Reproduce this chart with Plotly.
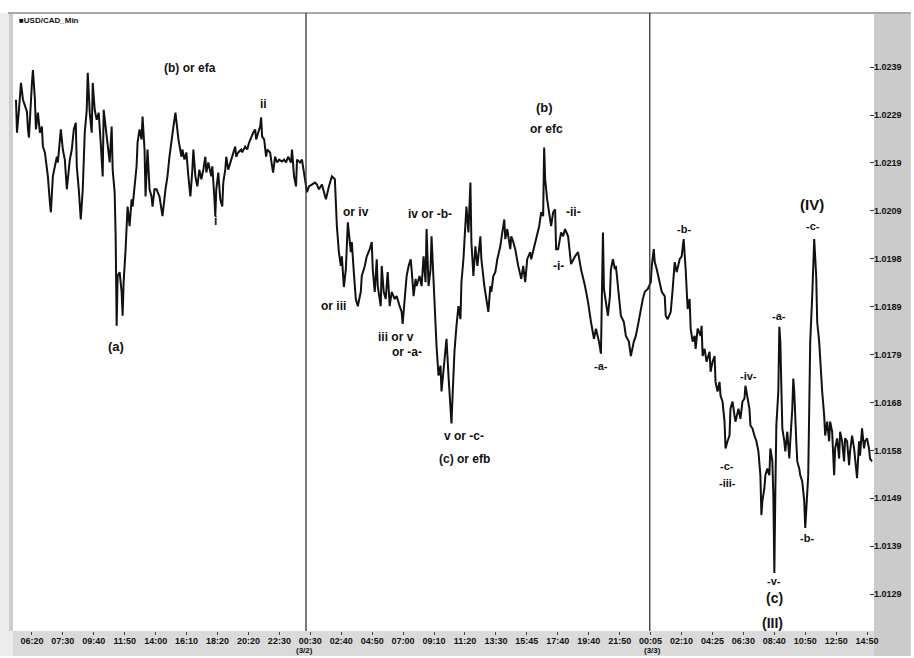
import plotly.graph_objects as go

# ---------------- data ----------------
bars = [0, 1, 3, 5, 7, 11, 12, 13, 16, 17, 19, 20, 22, 24, 26, 27, 29, 31, 32, 34, 35, 37, 39, 41, 42, 45, 47, 49,
        51, 52, 54, 56, 58, 60, 61, 63, 65, 67, 69, 71, 72, 74, 76, 77, 79, 81, 83, 85, 87, 88, 90, 92, 94, 96, 97,
        99, 100, 101, 102, 104, 106, 107, 108, 110, 112, 114, 116, 117, 119, 121, 122, 124, 126, 127, 129, 130, 132,
        134, 136, 137, 139, 141, 144, 147, 150, 152, 154, 156, 158, 160, 161, 163, 166, 167, 169, 171, 173, 175, 177,
        178, 180, 182, 184, 186, 188, 190, 191, 193, 196, 197, 199, 200, 201, 203, 205, 207, 208, 210, 211, 213, 216,
        218, 220, 221, 223, 226, 227, 230, 232, 234, 236, 238, 240, 241, 243, 245, 246, 247, 249, 251, 252, 255, 257,
        258, 260, 262, 264, 267, 269, 271, 273, 276, 277, 279, 281, 282, 285, 287, 288, 290, 292, 294, 297, 300, 302,
        304, 307, 311, 314, 317, 320, 322, 324, 326, 327, 329, 331, 333, 336, 337, 339, 341, 343, 346, 347, 350, 352,
        355, 357, 358, 360, 362, 363, 366, 367, 369, 371, 373, 375, 377, 380, 382, 385, 387, 388, 390, 392, 394, 396,
        397, 399, 401, 402, 405, 407, 408, 409, 411, 412, 414, 416, 417, 419, 421, 422, 424, 426, 427, 429, 431, 432,
        434, 436, 437, 438, 440, 442, 444, 446, 447, 449, 451, 452, 454, 456, 457, 459, 461, 463, 466, 467, 470, 472,
        474, 476, 477, 479, 481, 483, 486, 488, 490, 491, 493, 496, 497, 499, 501, 504, 507, 509, 511, 513, 516, 517,
        520, 522, 525, 527, 529, 530, 531, 533, 536, 537, 539, 541, 542, 544, 547, 549, 551, 554, 557, 559, 561, 564,
        567, 571, 574, 577, 580, 582, 585, 587, 589, 590, 592, 594, 596, 597, 599, 601, 602, 604, 606, 607, 610, 612,
        615, 617, 620, 622, 624, 627, 629, 631, 634, 637, 638, 640, 641, 643, 646, 648, 651, 652, 654, 657, 659, 661,
        663, 666, 668, 670, 672, 674, 676, 677, 679, 681, 682, 684, 687, 688, 689, 691, 693, 696, 697, 699, 701, 702,
        704, 706, 707, 709, 711, 712, 714, 716, 717, 719, 721, 722, 725, 727, 729, 731, 732, 734, 736, 737, 739, 741,
        743, 745, 747, 748, 749, 751, 752, 754, 756, 757, 759, 760, 761, 762, 763, 765, 766, 767, 768, 769, 771, 772,
        774, 776, 777, 779, 780, 781, 783, 784, 786, 787, 789, 791, 792, 793, 795, 796, 797, 799, 800, 801, 803, 804,
        806, 807, 809, 811, 812, 814, 816, 817, 819, 821, 822, 824, 826, 827, 829, 831, 832, 834, 836, 837, 839, 841,
        842, 844, 846, 847, 849, 851, 852, 854, 856, 857, 859]

prices = [1.02322, 1.02253, 1.02301, 1.02357, 1.02322, 1.02297, 1.02260, 1.02243, 1.02357, 1.02384, 1.02322,
          1.02260, 1.02295, 1.02253, 1.02266, 1.02224, 1.02212, 1.02176, 1.02162, 1.02108, 1.02087, 1.02162,
          1.02183, 1.02203, 1.02191, 1.02260, 1.02218, 1.02197, 1.02135, 1.02162, 1.02197, 1.02218, 1.02260,
          1.02274, 1.02183, 1.02135, 1.02072, 1.02135, 1.02253, 1.02301, 1.02378, 1.02295, 1.02253, 1.02357,
          1.02301, 1.02280, 1.02295, 1.02233, 1.02162, 1.02301, 1.02260, 1.02218, 1.02191, 1.02266, 1.02176,
          1.02129, 1.02037, 1.01850, 1.01954, 1.01962, 1.01921, 1.01871, 1.01941, 1.02010, 1.02099, 1.02058,
          1.02114, 1.02099, 1.02135, 1.02183, 1.02233, 1.02260, 1.02239, 1.02287, 1.02218, 1.02120, 1.02218,
          1.02135, 1.02120, 1.02099, 1.02135, 1.02135, 1.02120, 1.02079, 1.02135, 1.02162, 1.02203, 1.02239,
          1.02266, 1.02295, 1.02274, 1.02239, 1.02203, 1.02218, 1.02197, 1.02212, 1.02162, 1.02120, 1.02176,
          1.02218, 1.02162, 1.02141, 1.02176, 1.02156, 1.02176, 1.02203, 1.02170, 1.02191, 1.02162, 1.02183,
          1.02120, 1.02079, 1.02135, 1.02170, 1.02114, 1.02099, 1.02149, 1.02176, 1.02203, 1.02176, 1.02197,
          1.02212, 1.02224, 1.02203, 1.02212, 1.02218, 1.02212, 1.02224, 1.02218, 1.02233, 1.02245, 1.02253,
          1.02260, 1.02239, 1.02253, 1.02266, 1.02285, 1.02245, 1.02239, 1.02203, 1.02218, 1.02212, 1.02183,
          1.02170, 1.02203, 1.02191, 1.02197, 1.02193, 1.02197, 1.02191, 1.02203, 1.02191, 1.02218, 1.02162,
          1.02141, 1.02197, 1.02191, 1.02197, 1.02183, 1.02156, 1.02129, 1.02141, 1.02145, 1.02149, 1.02145,
          1.02135, 1.02145, 1.02114, 1.02141, 1.02162, 1.02156, 1.02058, 1.02004, 1.01975, 1.01995, 1.01931,
          1.01968, 1.02066, 1.02004, 1.02025, 1.01962, 1.01906, 1.01891, 1.01921, 1.01954, 1.01975, 1.01995,
          1.02010, 1.02025, 1.01968, 1.01921, 1.01989, 1.01933, 1.01891, 1.01975, 1.01921, 1.01906, 1.01962,
          1.01891, 1.01921, 1.01906, 1.01912, 1.01891, 1.01879, 1.01854, 1.01906, 1.01954, 1.01975, 1.01989,
          1.01968, 1.01912, 1.01948, 1.01933, 1.01954, 1.01933, 1.01962, 1.01995, 1.01941, 1.02052, 1.01933,
          1.01968, 1.02037, 1.01933, 1.01850, 1.01808, 1.01746, 1.01767, 1.01713, 1.01754, 1.01787, 1.01823,
          1.01746, 1.01671, 1.01646, 1.01698, 1.01796, 1.01850, 1.01891, 1.01864, 1.01941, 1.01989, 1.02058,
          1.02099, 1.02045, 1.02149, 1.02025, 1.01954, 1.02016, 1.01975, 1.02037, 1.01989, 1.01933, 1.01906,
          1.01879, 1.01933, 1.01921, 1.01954, 1.01962, 1.01989, 1.02016, 1.02045, 1.02072, 1.02031, 1.02052,
          1.02010, 1.02037, 1.02025, 1.02010, 1.01975, 1.01948, 1.01975, 1.01941, 1.01989, 1.02004, 1.01989,
          1.02016, 1.02037, 1.02058, 1.02087, 1.02079, 1.02222, 1.02156, 1.02114, 1.02072, 1.02058, 1.02087,
          1.02093, 1.02010, 1.02010, 1.02045, 1.02037, 1.02052, 1.02037, 1.01979, 1.01989, 1.01995, 1.02004,
          1.01968, 1.01933, 1.01900, 1.01858, 1.01823, 1.01844, 1.01817, 1.01792, 1.02045, 1.01927, 1.01900,
          1.01871, 1.01912, 1.01968, 1.01989, 1.01968, 1.01975, 1.01933, 1.01891, 1.01871, 1.01858, 1.01829,
          1.01817, 1.01787, 1.01817, 1.01829, 1.01850, 1.01885, 1.01906, 1.01921, 1.01927, 1.01941, 1.01975,
          1.02010, 1.01983, 1.01968, 1.01941, 1.01921, 1.01912, 1.01871, 1.01864, 1.01879, 1.01927, 1.01983,
          1.01962, 1.01989, 1.01995, 1.02031, 1.01968, 1.01885, 1.01906, 1.01844, 1.01817, 1.01829, 1.01802,
          1.01844, 1.01829, 1.01850, 1.01787, 1.01802, 1.01775, 1.01796, 1.01754, 1.01775, 1.01787, 1.01733,
          1.01713, 1.01733, 1.01704, 1.01692, 1.01650, 1.01594, 1.01609, 1.01621, 1.01677, 1.01692, 1.01663,
          1.01650, 1.01677, 1.01656, 1.01692, 1.01698, 1.01725, 1.01704, 1.01677, 1.01642, 1.01636, 1.01621,
          1.01609, 1.01588, 1.01538, 1.01455, 1.01484, 1.01511, 1.01538, 1.01552, 1.01538, 1.01594, 1.01567,
          1.01496, 1.01334, 1.01505, 1.01642, 1.01713, 1.01848, 1.01817, 1.01692, 1.01636, 1.01609, 1.01588,
          1.01629, 1.01573, 1.01609, 1.01677, 1.01740, 1.01713, 1.01609, 1.01567, 1.01552, 1.01538, 1.01525,
          1.01484, 1.01428, 1.01469, 1.01538, 1.01677, 1.01817, 1.01912, 1.01983, 1.02031, 1.01954, 1.01858,
          1.01817, 1.01775, 1.01713, 1.01663, 1.01621, 1.01650, 1.01609, 1.01650, 1.01629, 1.01538, 1.01594,
          1.01615, 1.01573, 1.01629, 1.01609, 1.01567, 1.01615, 1.01609, 1.01559, 1.01588, 1.01621, 1.01594,
          1.01567, 1.01532, 1.01609, 1.01579, 1.01636, 1.01594, 1.01609, 1.01615, 1.01594, 1.01573, 1.01567]

x_tick_labels = ["06:20", "07:30", "09:40", "11:50", "14:00", "16:10", "18:20", "20:20", "22:30", "00:30",
                 "02:40", "04:50", "07:00", "09:10", "11:20", "13:30", "15:45", "17:40", "19:40", "21:50",
                 "00:05", "02:10", "04:25", "06:30", "08:40", "10:50", "12:50", "14:50"]
y_tick_values = [1.0239, 1.0229, 1.0219, 1.0209, 1.0199, 1.0189, 1.0179, 1.0169, 1.0159, 1.0149, 1.0139, 1.0129]
y_tick_labels = ["1.0239", "1.0229", "1.0219", "1.0209", "1.0198", "1.0189", "1.0179", "1.0168", "1.0158",
                 "1.0149", "1.0139", "1.0129"]
session_breaks = [291, 636]
date_labels = ["(3/2)", "(3/3)"]
date_label_bars = [290, 639]

# wave labels: text, bar, price, font size
wave_labels = [
    ("(a)", 100, 1.01806, 13), ("(b) or efa", 175, 1.02389, 12), ("ii", 248, 1.02314, 12),
    ("i", 200, 1.02068, 12), ("or iv", 341, 1.02087, 12), ("or iii", 319, 1.01891, 12),
    ("iv or -b-", 415, 1.02083, 12), ("iii or v", 381, 1.01827, 12), ("or -a-", 392, 1.01796, 12),
    ("v or -c-", 450, 1.01621, 12), ("(c) or efb", 450, 1.01573, 12), ("(b)", 530, 1.02305, 13),
    ("or efc", 532, 1.02260, 12), ("-ii-", 559, 1.02087, 12), ("-i-", 544, 1.01975, 12),
    ("-a-", 587, 1.01767, 11), ("-b-", 670, 1.02052, 11), ("-c-", 713, 1.01557, 11),
    ("-iii-", 714, 1.01521, 11), ("-iv-", 735, 1.01746, 11), ("-a-", 766, 1.01871, 11),
    ("(IV)", 799, 1.02104, 15), ("-c-", 800, 1.02058, 11), ("-b-", 794, 1.01407, 11),
    ("-v-", 761, 1.01317, 11), ("(c)", 761, 1.01282, 14), ("(III)", 759, 1.01230, 14),
]

# ---------------- figure ----------------
FONT = "Liberation Sans, Arial, sans-serif"
tick_step = 31.04
x_tick_positions = [16 + tick_step * k for k in range(len(x_tick_labels))]

fig = go.Figure()
fig.add_trace(go.Scatter(x=bars, y=prices, mode="lines",
                         line=dict(color="#111111", width=2), hoverinfo="skip", showlegend=False))

L, R, T, B = 14, 37, 13, 25
W, H = 914, 658
pw, ph = W - L - R, H - T - B

shapes = [
    # right gray band
    dict(type="rect", xref="paper", yref="paper", x0=1, x1=1 + R / pw, y0=-B / ph, y1=1,
         fillcolor="#cbcbcb", line=dict(width=0), layer="below"),
    # bottom gray band
    dict(type="rect", xref="paper", yref="paper", x0=-L / pw, x1=1, y0=-B / ph, y1=0,
         fillcolor="#dadada", line=dict(width=0), layer="below"),
    # left gray strip
    dict(type="rect", xref="paper", yref="paper", x0=-L / pw, x1=-1 / pw, y0=-B / ph, y1=1,
         fillcolor="#ececec", line=dict(width=0), layer="below"),
    dict(type="rect", xref="paper", yref="paper", x0=-5 / pw, x1=-1 / pw, y0=0, y1=1,
         fillcolor="#cdcdcd", line=dict(width=0), layer="below"),
    # top border
    dict(type="line", xref="paper", yref="paper", x0=-6 / pw, x1=1 + R / pw, y0=1, y1=1,
         line=dict(color="#a8a8a8", width=2)),
]
for sb in session_breaks:
    shapes.append(dict(type="line", xref="x", yref="paper", x0=sb, x1=sb, y0=0, y1=1,
                       line=dict(color="#333333", width=1.3)))

annotations = []
for text, bx, py, fs in wave_labels:
    annotations.append(dict(x=bx, y=py, xref="x", yref="y", text=text, showarrow=False,
                            font=dict(family=FONT, size=fs, color="#111111", weight="bold"),
                            xanchor="center", yanchor="middle"))
for text, bx in zip(date_labels, date_label_bars):
    annotations.append(dict(x=bx, y=-19.5 / ph, xref="x", yref="paper", text=text, showarrow=False,
                            font=dict(family=FONT, size=8, color="#111111", weight="bold"),
                            xanchor="center", yanchor="middle"))
annotations.append(dict(x=3 / pw, y=1 - 8 / ph, xref="paper", yref="paper", text="■USD/CAD_Min",
                        showarrow=False, xanchor="left", yanchor="middle",
                        font=dict(family=FONT, size=8, color="#111111", weight="bold")))

fig.update_layout(
    width=W, height=H,
    margin=dict(l=L, r=R, t=T, b=B, pad=0),
    paper_bgcolor="white", plot_bgcolor="white",
    showlegend=False, hovermode=False,
    shapes=shapes, annotations=annotations,
    xaxis=dict(range=[-2, 861], tickmode="array", tickvals=x_tick_positions, ticktext=x_tick_labels,
               ticks="outside", ticklen=3, tickwidth=1, tickcolor="#444444", ticklabelstandoff=-2,
               tickfont=dict(family=FONT, size=9, color="#111111", weight="bold"),
               showgrid=False, zeroline=False, showline=False, fixedrange=True),
    yaxis=dict(range=[1.01213, 1.02503], side="right", tickmode="array",
               tickvals=y_tick_values, ticktext=y_tick_labels,
               ticks="inside", ticklen=4, tickwidth=1, tickcolor="#333333", ticklabelstandoff=-1,
               tickfont=dict(family=FONT, size=9, color="#111111", weight="bold"),
               showgrid=False, zeroline=False, showline=False, fixedrange=True),
)

fig.write_html("out.html", config={"displayModeBar": False},
               post_script="document.body.style.margin='0px';document.body.style.overflow='hidden';")
